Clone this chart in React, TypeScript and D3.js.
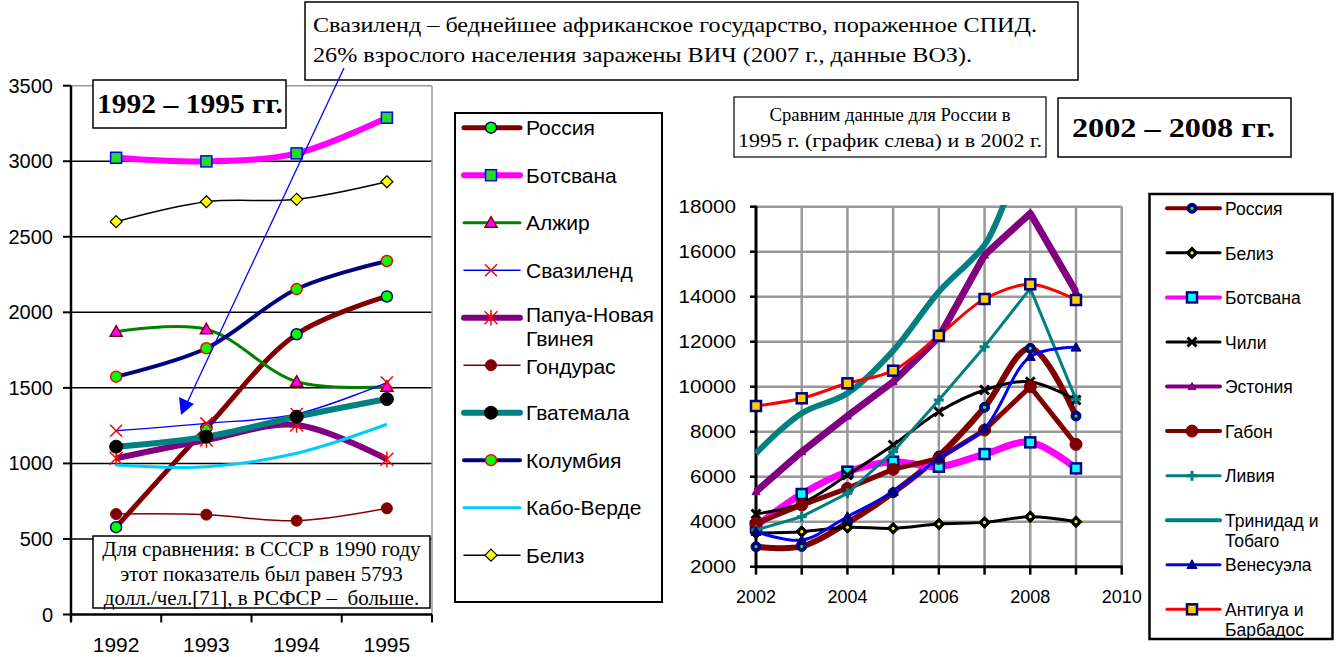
import * as d3 from "d3";

// ---- left chart data (1992–1995)
const leftYears = ["1992", "1993", "1994", "1995"];
const leftTicks = [0, 500, 1000, 1500, 2000, 2500, 3000, 3500];
const russiaL = [578, 1235, 1855, 2105];
const botswanaL = [3023, 2999, 3052, 3288];
const algeriaL = [1872, 1888, 1541, 1508];
const swazilandL = [1216, 1265, 1327, 1535];
const papuaL = [1034, 1155, 1254, 1027];
const hondurasL = [665, 661, 621, 703];
const guatemalaL = [1111, 1177, 1309, 1426];
const colombiaL = [1574, 1762, 2154, 2340];
const capeVerdeL = [989, 978, 1067, 1259];
const belizeL = [2600, 2732, 2748, 2864];
const leftNames = ["Россия", "Ботсвана", "Алжир", "Свазиленд", "Папуа-Новая\nГвинея", "Гондурас", "Гватемала", "Колумбия", "Кабо-Верде", "Белиз"];

// ---- right chart data (2002–2009)
const rightYears = [2002, 2003, 2004, 2005, 2006, 2007, 2008, 2009];
const rightTicksY = [2000, 4000, 6000, 8000, 10000, 12000, 14000, 16000, 18000];
const rightGridX = [2002, 2003, 2004, 2005, 2006, 2007, 2008, 2009, 2010];
const rightLabelsX = [2002, 2004, 2006, 2008, 2010];
const russiaR = [2889, 2900, 3950, 5289, 6919, 9084, 11704, 8698];
const belizeR = [3500, 3556, 3750, 3704, 3896, 3970, 4222, 4000];
const botswanaR = [3800, 5230, 6222, 6667, 6444, 7007, 7526, 6370];
const chileR = [4342, 4815, 6074, 7407, 8889, 9852, 10222, 9407];
const estoniaR = [5333, 7111, 8698, 10222, 12200, 15853, 17704, 14222];
const gabonR = [3926, 4741, 5481, 6326, 6815, 8074, 10000, 7437];
const libyaR = [3630, 4222, 5259, 7111, 9407, 11778, 14370, 9437];
const trinidadR = [7040, 8818, 9707, 11600, 14222, 16300, 20000, 19000];
const venezuelaR = [3556, 3185, 4222, 5333, 6815, 8148, 11333, 11748];
const antiguaR = [9142, 9484, 10151, 10711, 12267, 13898, 14551, 13853];
const rightNames = ["Россия", "Белиз", "Ботсвана", "Чили", "Эстония", "Габон", "Ливия", "Тринидад и\nТобаго", "Венесуэла", "Антигуа и\nБарбадос"];

type Mk = { kind: string; h: number; fill?: string; stroke?: string; sw?: number; dot?: string };

const leftSeries = [
  { values: russiaL, color: "#800000", width: 5, mk: { kind: "circle", h: 5.5, fill: "#00ff00", stroke: "#000080", sw: 1.5 } },
  { values: botswanaL, color: "#ff00ff", width: 6, mk: { kind: "square", h: 5.5, fill: "#22dd22", stroke: "#0000ff", sw: 1.5 } },
  { values: algeriaL, color: "#008000", width: 3, mk: { kind: "triangle", h: 6, fill: "#ff00ff", stroke: "#800000", sw: 1.5 } },
  { values: swazilandL, color: "#0000ff", width: 1.5, mk: { kind: "x", h: 6, stroke: "#ff0000", sw: 1.5 } },
  { values: papuaL, color: "#800080", width: 6, mk: { kind: "star", h: 6.5, stroke: "#ff0000", sw: 1.5 } },
  { values: hondurasL, color: "#800000", width: 1.5, mk: { kind: "circle", h: 5.5, fill: "#800000", stroke: "#800000", sw: 1 } },
  { values: guatemalaL, color: "#008080", width: 6, mk: { kind: "circle", h: 6.5, fill: "#000000", stroke: "#000000", sw: 1 } },
  { values: colombiaL, color: "#000080", width: 4, mk: { kind: "circle", h: 5.5, fill: "#00ff00", stroke: "#ff0000", sw: 1.5 } },
  { values: capeVerdeL, color: "#00ccff", width: 3, mk: null },
  { values: belizeL, color: "#000000", width: 1.5, mk: { kind: "diamond", h: 6, fill: "#ffff00", stroke: "#000000", sw: 1.2 } },
];

const rightSeries = [
  { values: russiaR, color: "#800000", width: 6, smooth: true, mk: { kind: "circle", h: 5, fill: "#000080", stroke: "#000080", sw: 1, dot: "#00ff00" } },
  { values: belizeR, color: "#000000", width: 3, smooth: true, mk: { kind: "diamond", h: 6, fill: "#000000", stroke: "#000000", sw: 1, dot: "#ffff00" } },
  { values: botswanaR, color: "#ff00ff", width: 7, smooth: true, mk: { kind: "square", h: 5, fill: "#00ffff", stroke: "#000080", sw: 2.5 } },
  { values: chileR, color: "#000000", width: 3, smooth: true, mk: { kind: "x", h: 4.5, stroke: "#000000", sw: 3 } },
  { values: estoniaR, color: "#800080", width: 7, smooth: false, mk: { kind: "triangle", h: 4, fill: "#800080", stroke: "#800080", sw: 1 } },
  { values: gabonR, color: "#800000", width: 5, smooth: false, mk: { kind: "circle", h: 6, fill: "#800000", stroke: "#800000", sw: 1 } },
  { values: libyaR, color: "#008080", width: 3, smooth: false, mk: { kind: "plus", h: 5, stroke: "#008080", sw: 3 } },
  { values: trinidadR, color: "#008080", width: 6, smooth: true, mk: null },
  { values: venezuelaR, color: "#0000ff", width: 3, smooth: true, mk: { kind: "triangle", h: 5, fill: "#000080", stroke: "#000080", sw: 1 } },
  { values: antiguaR, color: "#ff0000", width: 3, smooth: true, mk: { kind: "square", h: 5, fill: "#ffcc00", stroke: "#000080", sw: 2.5 } },
];

const SANS = "'Liberation Sans', Arial, sans-serif";
const SERIF = "'Liberation Serif', 'Times New Roman', serif";

function Marker({ mk, x, y }: { mk: Mk | null; x: number; y: number }) {
  if (!mk) return null;
  const h = mk.h;
  let shape;
  if (mk.kind === "circle") {
    shape = <circle cx={x} cy={y} r={h} fill={mk.fill} stroke={mk.stroke} strokeWidth={mk.sw} />;
  } else if (mk.kind === "square") {
    shape = <rect x={x - h} y={y - h} width={2 * h} height={2 * h} fill={mk.fill} stroke={mk.stroke} strokeWidth={mk.sw} />;
  } else if (mk.kind === "triangle") {
    shape = <path d={`M${x},${y - h}L${x + h},${y + h * 0.75}L${x - h},${y + h * 0.75}Z`} fill={mk.fill} stroke={mk.stroke} strokeWidth={mk.sw} />;
  } else if (mk.kind === "diamond") {
    shape = <path d={`M${x},${y - h}L${x + h},${y}L${x},${y + h}L${x - h},${y}Z`} fill={mk.fill} stroke={mk.stroke} strokeWidth={mk.sw} />;
  } else if (mk.kind === "x") {
    shape = <path d={`M${x - h},${y - h}L${x + h},${y + h}M${x + h},${y - h}L${x - h},${y + h}`} fill="none" stroke={mk.stroke} strokeWidth={mk.sw} />;
  } else if (mk.kind === "star") {
    shape = <path d={`M${x - h},${y - h}L${x + h},${y + h}M${x + h},${y - h}L${x - h},${y + h}M${x},${y - h * 1.2}L${x},${y + h * 1.2}`} fill="none" stroke={mk.stroke} strokeWidth={mk.sw} />;
  } else {
    shape = <path d={`M${x - h},${y}L${x + h},${y}M${x},${y - h}L${x},${y + h}`} fill="none" stroke={mk.stroke} strokeWidth={mk.sw} />;
  }
  return (
    <g>
      {shape}
      {mk.dot && <circle cx={x} cy={y} r={1.6} fill={mk.dot} />}
    </g>
  );
}

// serif note text stretched to the width seen in the picture
function Note({ x, y, w, size, bold, anchor, children }: any) {
  return (
    <text x={x} y={y} textAnchor={anchor || "start"} fontFamily={SERIF} fontSize={size} fontWeight={bold ? "bold" : "normal"}
      textLength={w} lengthAdjust="spacingAndGlyphs" xmlSpace="preserve">{children}</text>
  );
}

export default function App() {
  // left chart scales
  const xL = d3.scaleBand().domain(leftYears).range([71, 432]);
  const yL = d3.scaleLinear().domain([0, 3500]).range([614.5, 85.7]);
  const cx = (i: number) => (xL(leftYears[i]) as number) + xL.bandwidth() / 2;
  const lineL = d3.line<number>().x((_, i) => cx(i)).y((d) => yL(d)).curve(d3.curveCatmullRom.alpha(0.5));

  // right chart scales
  const xR = d3.scaleLinear().domain([2002, 2010]).range([756, 1121.7]);
  const yR = d3.scaleLinear().domain([2000, 18000]).range([566.7, 206.7]);
  const lineRs = d3.line<number>().x((_, i) => xR(rightYears[i])).y((d) => yR(d)).curve(d3.curveCatmullRom.alpha(0.5));
  const lineRl = d3.line<number>().x((_, i) => xR(rightYears[i])).y((d) => yR(d));

  const bandEdges = leftYears.map((y) => xL(y) as number).concat([432]);

  return (
    <div style={{ position: "absolute", left: 0, top: 0 }}>
      <svg width={1340} height={657} style={{ display: "block", background: "#fff" }}>
        <defs>
          <clipPath id="clipR">
            <rect x={700} y={205} width={500} height={400} />
          </clipPath>
          <clipPath id="clipL">
            <rect x={60} y={84} width={380} height={540} />
          </clipPath>
        </defs>

        {/* ---------- left chart ---------- */}
        {leftTicks.slice(1, -1).map((t) => (
          <line key={t} x1={71} x2={432} y1={yL(t)} y2={yL(t)} stroke="#000" strokeWidth={1.5} />
        ))}
        <line x1={71} x2={432} y1={yL(3500)} y2={yL(3500)} stroke="#999" strokeWidth={1.5} />
        <line x1={432} x2={432} y1={yL(3500)} y2={yL(0)} stroke="#999" strokeWidth={1.5} />
        <line x1={71} x2={71} y1={yL(3500)} y2={yL(0) + 7} stroke="#000" strokeWidth={2.5} />
        <line x1={71} x2={432} y1={yL(0)} y2={yL(0)} stroke="#000" strokeWidth={2.5} />
        {leftTicks.map((t) => (
          <g key={t}>
            <line x1={63} x2={71} y1={yL(t)} y2={yL(t)} stroke="#000" strokeWidth={2} />
            <text x={53} y={yL(t) + 7} textAnchor="end" fontFamily={SANS} fontSize={20}>{t}</text>
          </g>
        ))}
        {bandEdges.map((x, i) => (
          <line key={i} x1={x} x2={x} y1={yL(0)} y2={yL(0) + 8} stroke="#000" strokeWidth={2} />
        ))}
        {leftYears.map((y, i) => (
          <text key={y} x={cx(i)} y={652} textAnchor="middle" fontFamily={SANS} fontSize={21}>{y}</text>
        ))}

        <g clipPath="url(#clipL)">
          {leftSeries.map((s, si) => (
            <g key={si}>
              <path d={lineL(s.values) as string} fill="none" stroke={s.color} strokeWidth={s.width} strokeLinejoin="round" />
              {s.values.map((v, i) => (
                <Marker key={i} mk={s.mk as Mk | null} x={cx(i)} y={yL(v)} />
              ))}
            </g>
          ))}
        </g>

        {/* title box left */}
        <rect x={93} y={80} width={193} height={48} fill="#fff" stroke="#000" strokeWidth={1.5} />
        <Note x={97} y={113} w={186} size={28} bold>1992 – 1995 гг.</Note>

        {/* comparison box */}
        <rect x={93} y={536} width={337} height={72} fill="#fff" stroke="#000" strokeWidth={1.5} />
        {["Для сравнения: в СССР в 1990 году", "этот показатель был равен 5793", "долл./чел.[71], в РСФСР –  больше."].map((t, i) => (
          <text key={i} x={261.5} y={556 + i * 24.5} textAnchor="middle" fontFamily={SERIF} fontSize={21} xmlSpace="preserve">{t}</text>
        ))}

        {/* top note box */}
        <rect x={305} y={2} width={773} height={78} fill="#fff" stroke="#000" strokeWidth={1.5} />
        <Note x={313} y={32} w={724} size={22}>Свазиленд – беднейшее африканское государство, пораженное СПИД.</Note>
        <Note x={313} y={62} w={659} size={22}>26% взрослого населения заражены ВИЧ (2007 г., данные ВОЗ).</Note>

        {/* arrow */}
        <line x1={344} y1={68} x2={187} y2={403} stroke="#0000ff" strokeWidth={1.3} />
        <path d="M181,415 L179,397 L194,404 Z" fill="#0000ff" />

        {/* left legend */}
        <rect x={455} y={113} width={207} height={489} fill="#fff" stroke="#000" strokeWidth={2} />
        {leftSeries.map((s, i) => {
          const ly = 127.7 + i * 47.5;
          const parts = leftNames[i].split("\n");
          const dy = parts[1] ? 4 : i === 5 ? 8.5 : 7.5;
          return (
            <g key={i}>
              <line x1={464} x2={520} y1={ly} y2={ly} stroke={s.color} strokeWidth={s.width} strokeLinecap="round" />
              <Marker mk={s.mk as Mk | null} x={491} y={ly} />
              <text x={526} y={ly + dy} fontFamily={SANS} fontSize={21}>{parts[0]}</text>
              {parts[1] && (
                <text x={526} y={ly + 28.5} fontFamily={SANS} fontSize={21}>{parts[1]}</text>
              )}
            </g>
          );
        })}

        {/* ---------- right chart ---------- */}
        {rightTicksY.slice(1).map((t) => (
          <line key={t} x1={756} x2={xR(2010)} y1={yR(t)} y2={yR(t)} stroke="#999" strokeWidth={2.5} />
        ))}
        {rightGridX.slice(1).map((yr) => (
          <line key={yr} x1={xR(yr)} x2={xR(yr)} y1={yR(18000)} y2={yR(2000)} stroke="#999" strokeWidth={2.5} />
        ))}
        <line x1={756} x2={756} y1={yR(18000) - 1} y2={yR(2000)} stroke="#000" strokeWidth={3} />
        <line x1={756} x2={xR(2010) + 1} y1={yR(2000)} y2={yR(2000)} stroke="#000" strokeWidth={3} />
        {rightTicksY.map((t) => (
          <g key={t}>
            <line x1={750} x2={756} y1={yR(t)} y2={yR(t)} stroke="#000" strokeWidth={2.5} />
            <text transform={`translate(736,${yR(t) + 6.5}) scale(1.15,1)`} textAnchor="end" fontFamily={SANS} fontSize={18}>{t}</text>
          </g>
        ))}
        {rightGridX.map((yr) => (
          <line key={yr} x1={xR(yr)} x2={xR(yr)} y1={yR(2000)} y2={yR(2000) + 8} stroke="#000" strokeWidth={2.5} />
        ))}
        {rightLabelsX.map((yr) => (
          <text key={yr} x={xR(yr)} y={603} textAnchor="middle" fontFamily={SANS} fontSize={18}>{yr}</text>
        ))}

        {rightSeries.map((s, si) => (
          <g key={si}>
            <path d={(s.smooth ? lineRs : lineRl)(s.values) as string} fill="none" stroke={s.color} strokeWidth={s.width}
              strokeLinejoin="round" clipPath="url(#clipR)" />
            {s.values.map((v, i) =>
              v <= 18000 ? <Marker key={i} mk={s.mk as Mk | null} x={xR(rightYears[i])} y={yR(v)} /> : null
            )}
          </g>
        ))}

        {/* right note boxes */}
        <rect x={734} y={97} width={312} height={60} fill="#fff" stroke="#000" strokeWidth={1.2} />
        <Note x={890} y={121} w={241} size={18} anchor="middle">Сравним данные для России в</Note>
        <Note x={890} y={147} w={304} size={18} anchor="middle">1995 г. (график слева) и в 2002 г.</Note>

        <rect x={1058} y={98} width={233} height={59} fill="#fff" stroke="#000" strokeWidth={1.5} />
        <Note x={1173.5} y={137} w={203} size={28} bold anchor="middle">2002 – 2008 гг.</Note>

        {/* right legend */}
        <rect x={1149.5} y={194} width={183} height={445} fill="#fff" stroke="#000" strokeWidth={2.5} />
        {rightSeries.map((s, i) => {
          const ly = 208.3 + i * 44.56;
          const parts = rightNames[i].split("\n");
          return (
            <g key={i}>
              <line x1={1167} x2={1220} y1={ly} y2={ly} stroke={s.color} strokeWidth={Math.min(s.width, 4)} strokeLinecap="round" />
              <Marker mk={s.mk as Mk | null} x={1192} y={ly} />
              <text x={1225} y={ly + 6.7} fontFamily={SANS} fontSize={17.5}>{parts[0]}</text>
              {parts[1] && (
                <text x={1225} y={ly + 27} fontFamily={SANS} fontSize={17.5}>{parts[1]}</text>
              )}
            </g>
          );
        })}
      </svg>
    </div>
  );
}
